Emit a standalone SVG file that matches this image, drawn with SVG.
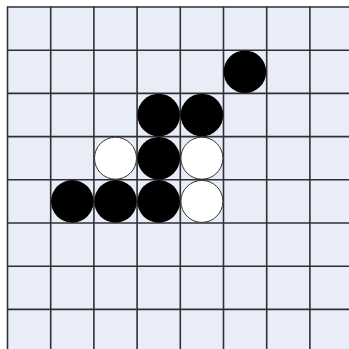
<svg xmlns="http://www.w3.org/2000/svg" width="349" height="349" viewBox="0 0 349 349">
<style>
.grid line{stroke:#2e3033;stroke-width:1.6}
.b{fill:#000}
.w{fill:#fff;stroke:#333;stroke-width:1}
</style>
<rect width="349" height="349" fill="#fff"/>
<rect x="7" y="6.5" width="342" height="342.5" fill="#e8edf7"/>
<g class="grid" id="grid">
<line x1="7.5" y1="6.5" x2="7.5" y2="349"/>
<line x1="50.7" y1="6.5" x2="50.7" y2="349"/>
<line x1="93.9" y1="6.5" x2="93.9" y2="349"/>
<line x1="137.1" y1="6.5" x2="137.1" y2="349"/>
<line x1="180.3" y1="6.5" x2="180.3" y2="349"/>
<line x1="223.5" y1="6.5" x2="223.5" y2="349"/>
<line x1="266.7" y1="6.5" x2="266.7" y2="349"/>
<line x1="309.9" y1="6.5" x2="309.9" y2="349"/>
<line x1="7" y1="7" x2="349" y2="7"/>
<line x1="7" y1="50.2" x2="349" y2="50.2"/>
<line x1="7" y1="93.4" x2="349" y2="93.4"/>
<line x1="7" y1="136.6" x2="349" y2="136.6"/>
<line x1="7" y1="179.8" x2="349" y2="179.8"/>
<line x1="7" y1="223" x2="349" y2="223"/>
<line x1="7" y1="266.2" x2="349" y2="266.2"/>
<line x1="7" y1="309.4" x2="349" y2="309.4"/>
</g>
<g id="stones">
<circle class="b" cx="244.9" cy="71.8" r="21.3"/>
<circle class="b" cx="158.7" cy="115" r="21.3"/>
<circle class="b" cx="201.9" cy="115" r="21.3"/>
<circle class="w" cx="115.5" cy="158.2" r="21"/>
<circle class="b" cx="158.7" cy="158.2" r="21.3"/>
<circle class="w" cx="201.9" cy="158.2" r="21"/>
<circle class="b" cx="72.3" cy="201.4" r="21.3"/>
<circle class="b" cx="115.5" cy="201.4" r="21.3"/>
<circle class="b" cx="158.7" cy="201.4" r="21.3"/>
<circle class="w" cx="201.9" cy="201.4" r="21"/>
</g>
</svg>
